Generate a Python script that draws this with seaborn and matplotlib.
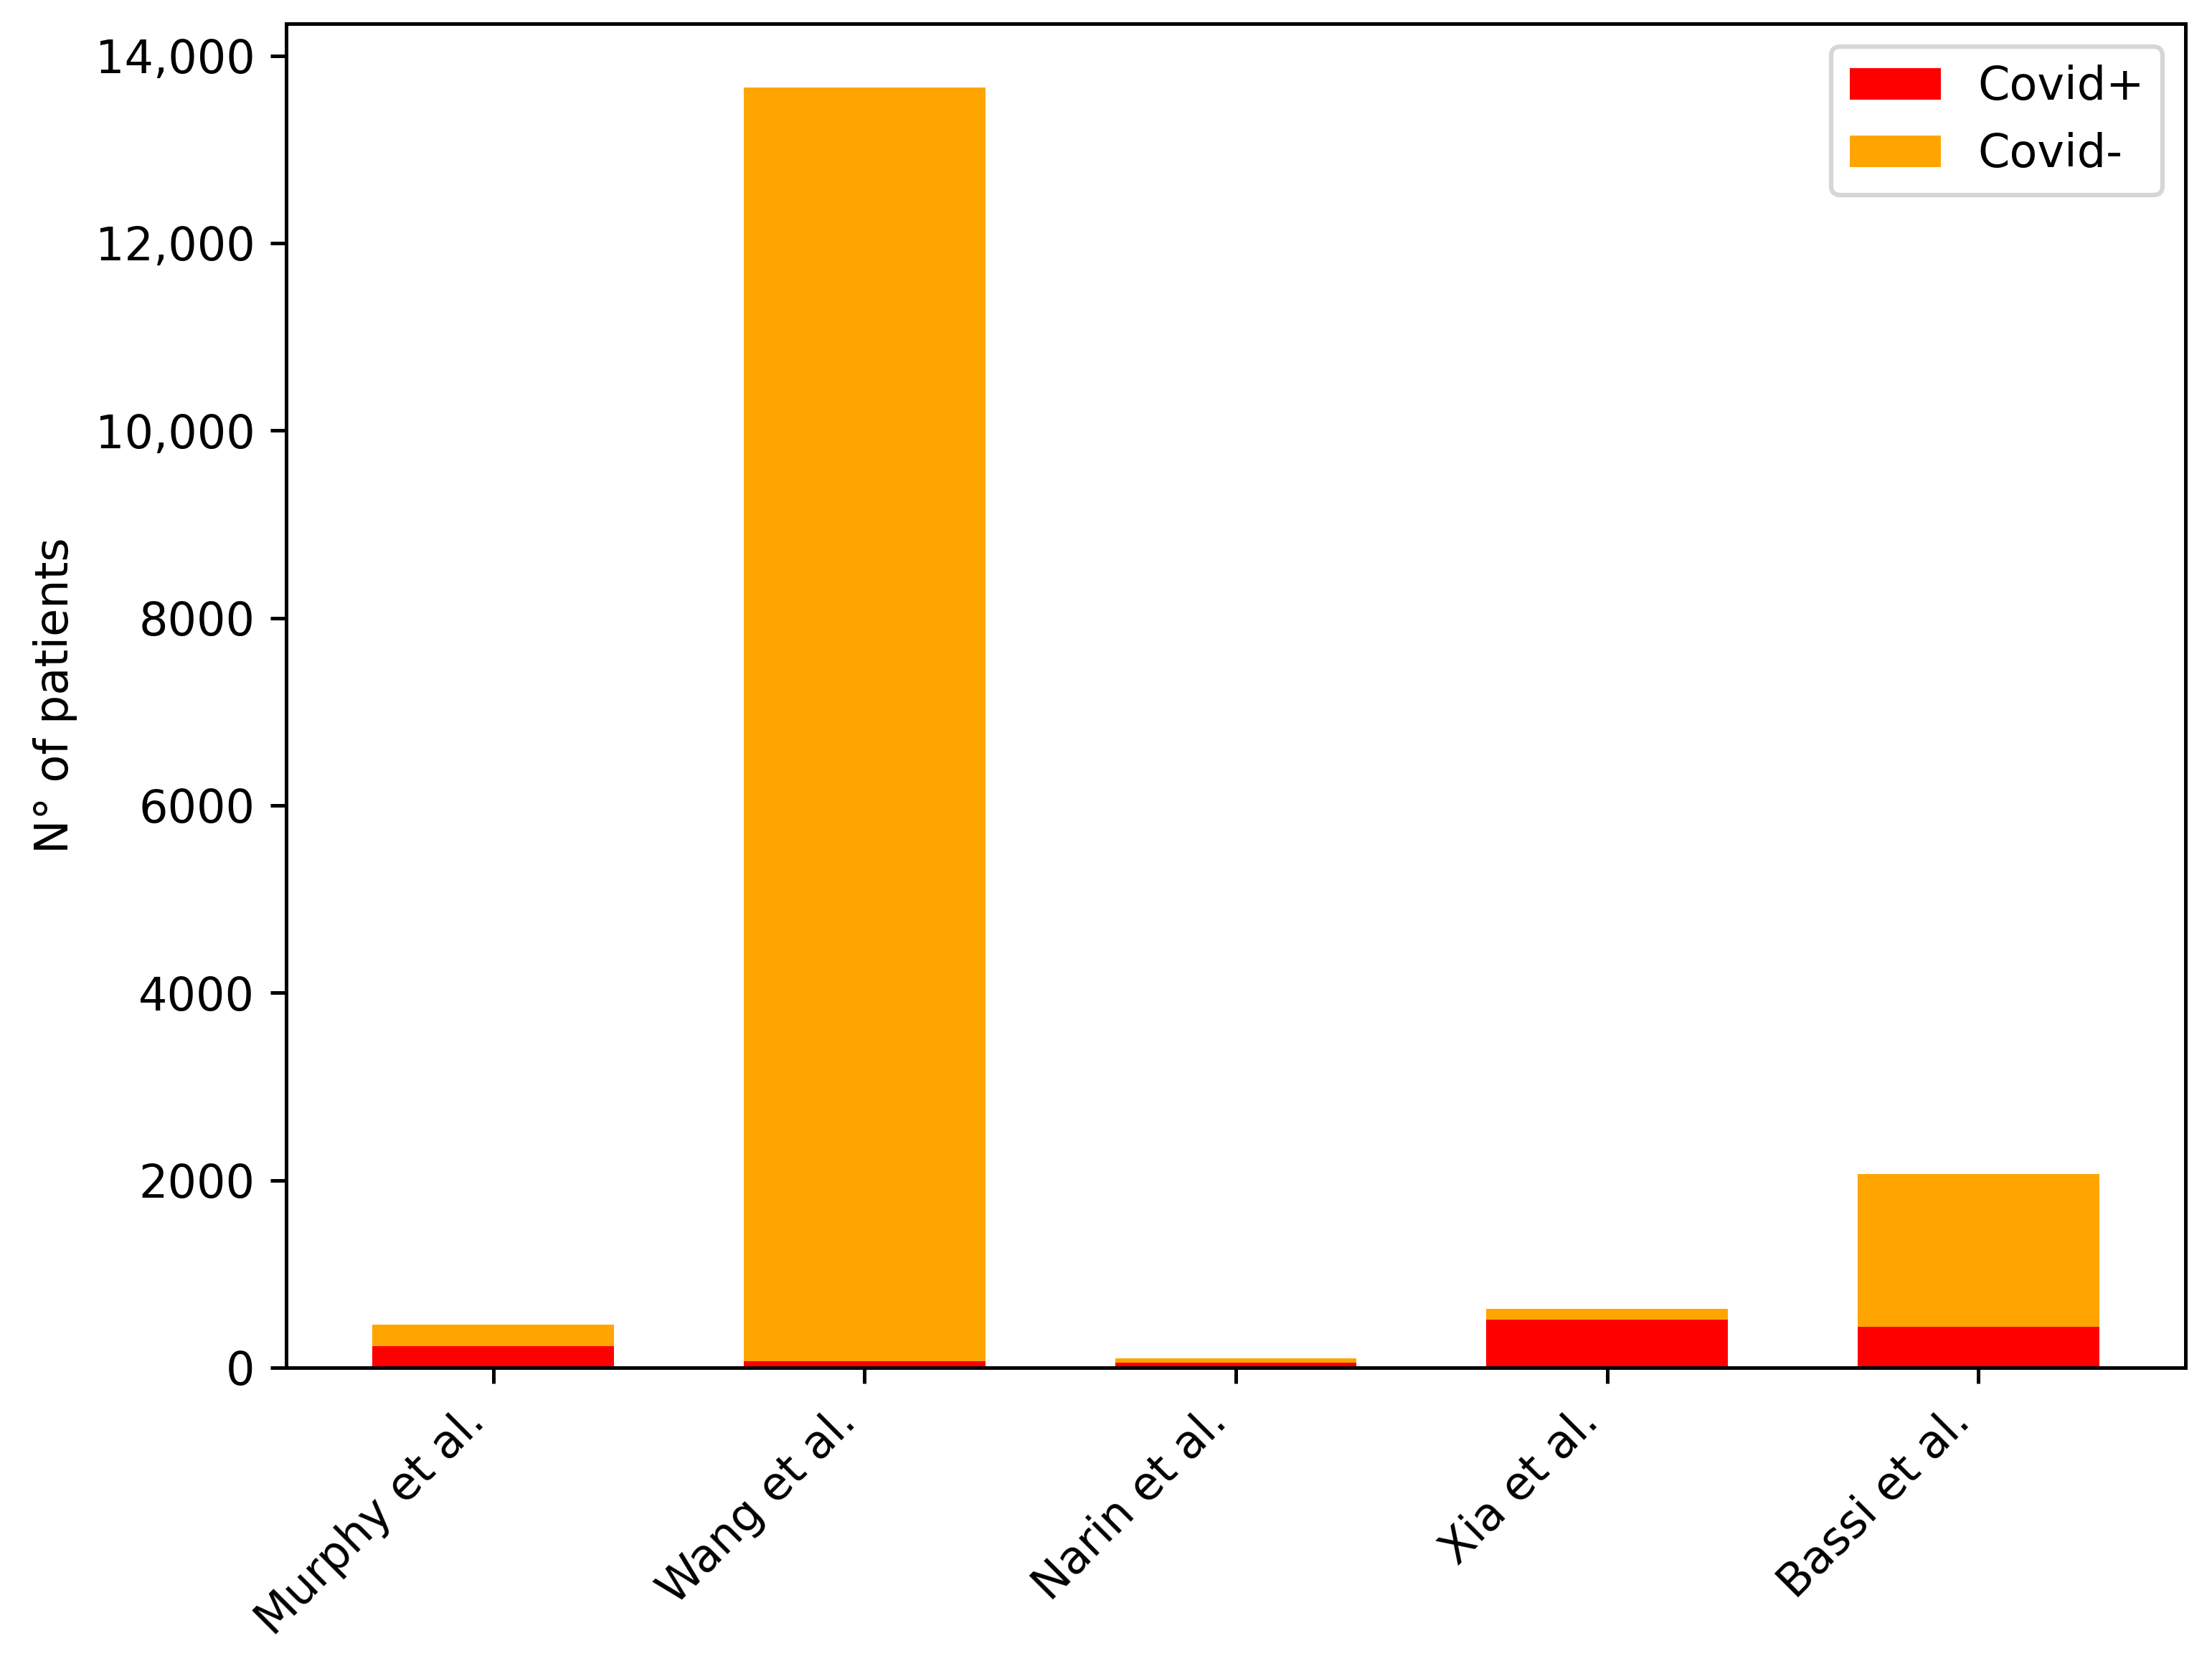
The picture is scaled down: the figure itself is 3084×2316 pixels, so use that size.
import matplotlib
matplotlib.use("Agg")
import matplotlib.pyplot as plt
from matplotlib.ticker import FuncFormatter
from matplotlib.patches import Patch
import seaborn as sns
import pandas as pd

studies = ["Murphy et al.", "Wang et al.", "Narin et al.", "Xia et al.", "Bassi et al."]
covid_pos = [226, 68, 50, 512, 440]
covid_neg = [230, 13590, 50, 115, 1628]

totals = [p + n for p, n in zip(covid_pos, covid_neg)]
df = pd.DataFrame({"study": studies, "pos": covid_pos, "total": totals})

plt.rcParams['font.family'] = ['DejaVu Sans']
plt.rcParams['font.size'] = 10.2
fig = plt.figure(figsize=(3084 / 450, 2316 / 450), dpi=450)
ax = fig.add_axes([0.1294, 0.1766, 0.8586, 0.8091])

red = "#ff0000"
orange = "#ffa500"

sns.barplot(data=df, x="study", y="total", color=orange, saturation=1,
            width=0.65, linewidth=0, ax=ax)
sns.barplot(data=df, x="study", y="pos", color=red, saturation=1,
            width=0.65, linewidth=0, ax=ax)

ax.set_xlim(-0.5575, 4.5575)
ax.set_ylim(0, max(totals) * 1.05)
ax.set_yticks(range(0, 14001, 2000))
ax.yaxis.set_major_formatter(FuncFormatter(
    lambda v, p: f"{v:,.0f}" if v >= 10000 else f"{v:.0f}"))
ax.set_xlabel("")
ax.set_ylabel("N° of patients")
ax.grid(False)
for s in ax.spines.values():
    s.set_visible(True)
    s.set_color("black")
    s.set_linewidth(0.8)
ax.tick_params(axis="both", direction="out", length=3.5, width=0.8, colors="black")
plt.setp(ax.get_xticklabels(), rotation=45, ha="right")

handles = [Patch(facecolor=red, label="Covid+"), Patch(facecolor=orange, label="Covid-")]
ax.legend(handles=handles, loc="upper right")

fig.savefig("out.png", dpi=450)
